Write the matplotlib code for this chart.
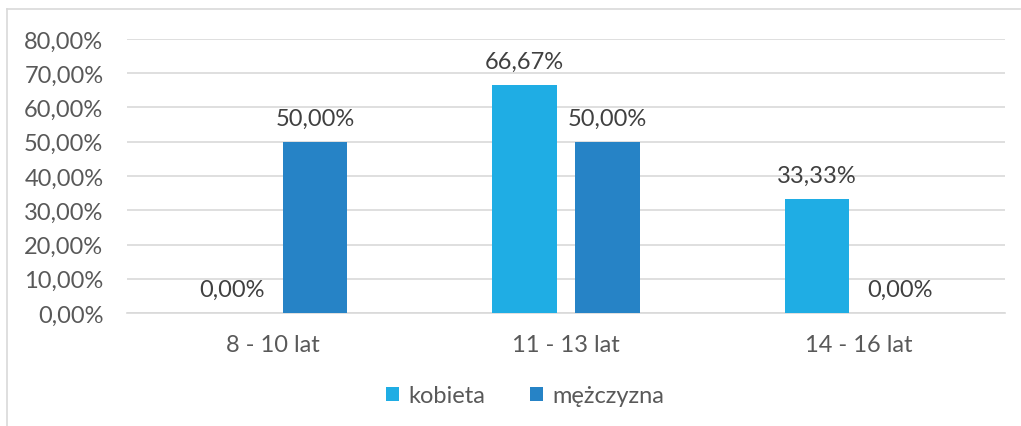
import matplotlib.pyplot as plt
import numpy as np
from matplotlib.lines import Line2D

plt.rcParams['font.family'] = ['Lato', 'DejaVu Sans']

categories = ['8 - 10 lat', '11 - 13 lat', '14 - 16 lat']
kobieta = [0.0, 66.67, 33.33]
mezczyzna = [50.0, 50.0, 0.0]
series_names = ['kobieta', 'mężczyzna']

c_k = '#1FADE4'
c_m = '#2683C6'
txt = '#595959'
fs = 17

fig = plt.figure(figsize=(10.21, 4.27), dpi=100)
ax = fig.add_axes([127/1021, 1-314/427, (1005-127)/1021, (314-40)/427])

x = np.arange(len(categories))
w = 0.22
off = 0.142
b1 = ax.bar(x - off, kobieta, w, color=c_k, label=series_names[0], zorder=3)
b2 = ax.bar(x + off, mezczyzna, w, color=c_m, label=series_names[1], zorder=3)

def fmt(v):
    return ('%.2f' % v).replace('.', ',') + '%'

for bars, vals in [(b1, kobieta), (b2, mezczyzna)]:
    for b, v in zip(bars, vals):
        ax.annotate(fmt(v), (b.get_x() + b.get_width()/2, v), xytext=(0, 12),
                    textcoords='offset points', ha='center', va='baseline',
                    fontsize=fs, color='#404040')

ax.set_xlim(-0.5, 2.5)
ax.set_ylim(0, 80)
ax.set_yticks(np.arange(0, 81, 10))
ax.set_yticklabels([fmt(v) for v in np.arange(0, 81, 10)])
ax.set_xticks(x)
ax.set_xticklabels(categories)
ax.yaxis.grid(True, color='#D9D9D9', linewidth=1.2, zorder=0)
for s in ['top', 'right', 'left']:
    ax.spines[s].set_visible(False)
ax.spines['bottom'].set_color('#D9D9D9')
ax.spines['bottom'].set_linewidth(1.2)
ax.tick_params(axis='both', length=0, labelsize=fs, colors=txt)
ax.tick_params(axis='y', pad=17)
ax.tick_params(axis='x', pad=15)

ax.legend(loc='center', bbox_to_anchor=(525/1021, 1-397/427), bbox_transform=fig.transFigure,
          ncol=2, frameon=False, fontsize=fs, handlelength=0.55, handleheight=0.55,
          handletextpad=0.4, columnspacing=1.9, labelcolor=txt)

# chart frame
fig.add_artist(Line2D([7/1021, 7/1021], [0, 1-10/427], color='#D9D9D9', lw=1.2, transform=fig.transFigure))
fig.add_artist(Line2D([7/1021, 1020/1021], [1-10/427, 1-10/427], color='#D9D9D9', lw=1.2, transform=fig.transFigure))

fig.savefig('out.png', dpi=100)
